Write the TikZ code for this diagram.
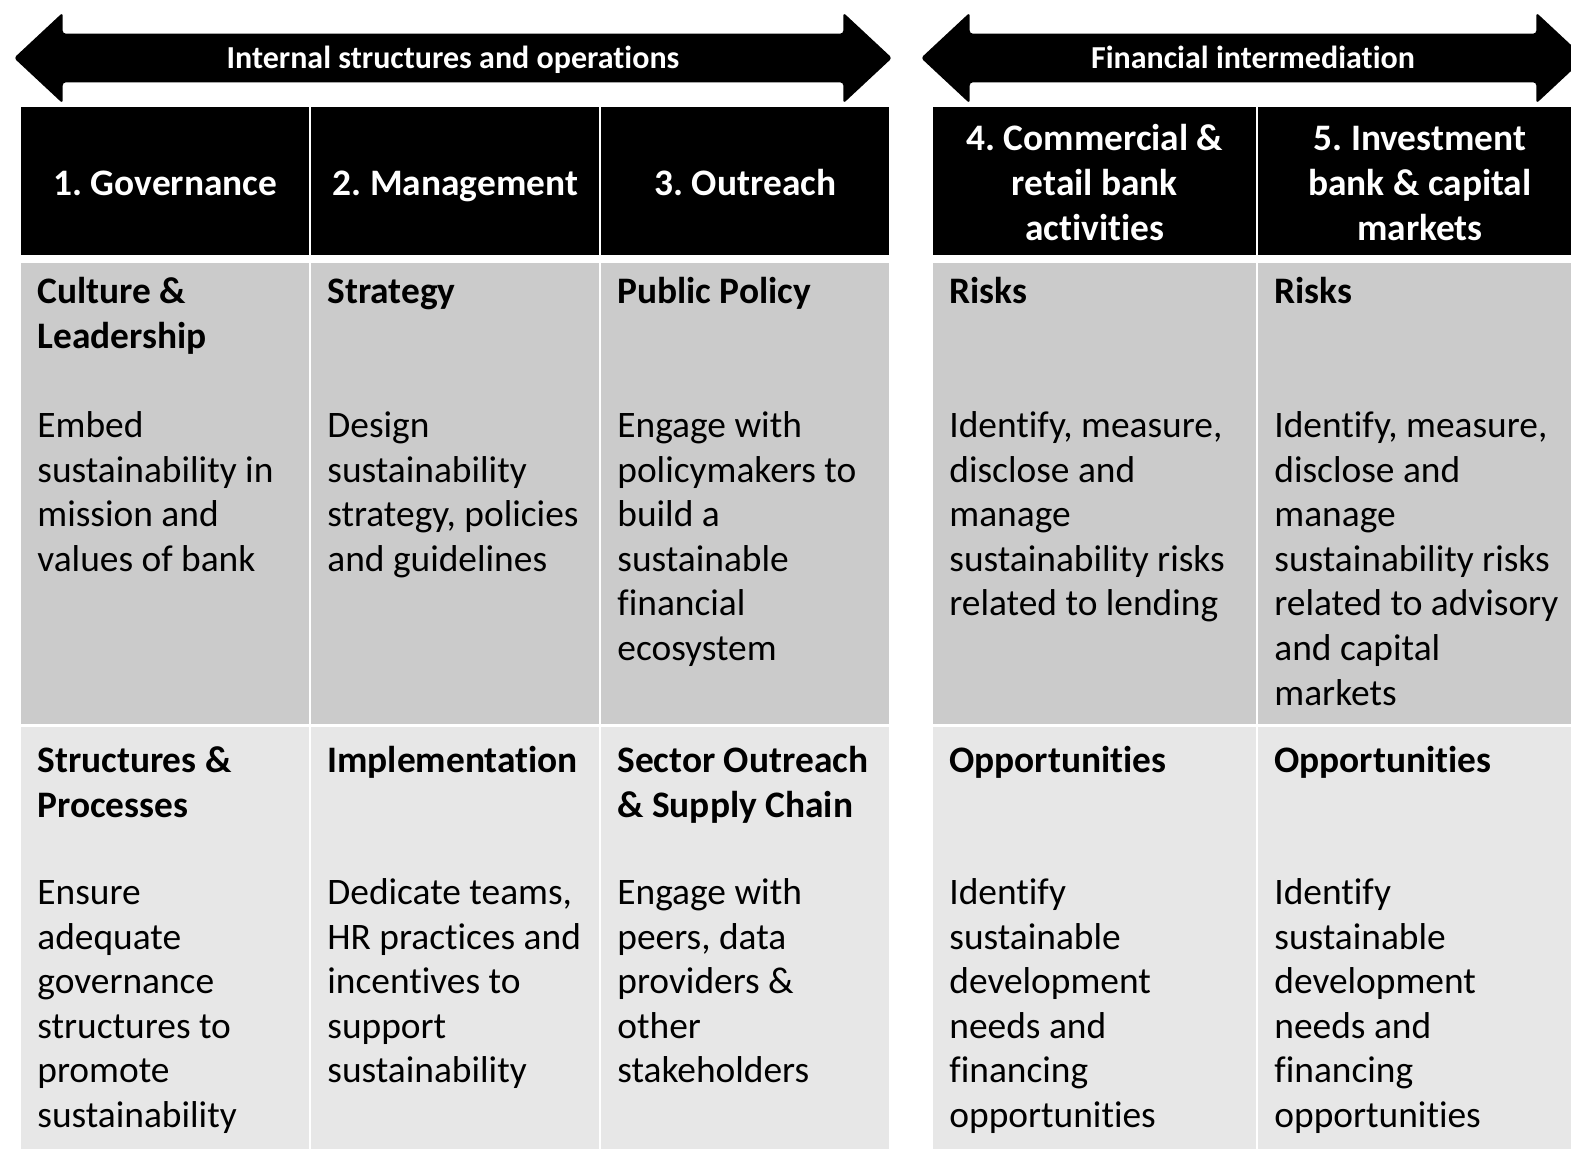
\documentclass[tikz,border=0pt]{standalone}
\usepackage{fontspec}
\setmainfont{Carlito}[Ligatures=CommonOff]
\frenchspacing
\usetikzlibrary{positioning,shapes.arrows}
\definecolor{riskgray}{RGB}{203,203,203}
\definecolor{oppgray}{RGB}{231,231,231}
\tikzset{
	band/.style={
		% The shape:
		double arrow,double arrow head extend=10.5pt,double arrow tip angle=86,
		minimum width=45pt,inner xsep=0pt,inner ysep=0pt,
		text height=17pt,text depth=7pt,rounded corners=1.5pt,
		% The filling:
		fill=black,text=white,
		font=\bfseries\fontsize{16pt}{18pt}\selectfont
	}}
\tikzset{
	header/.style={
		% The shape:
		rectangle,inner sep=0pt,anchor=north west,minimum height=74pt,
		minimum width=#1,text width=#1,
		% The filling:
		fill=black,text=white,align=flush center,
		font=\bfseries\fontsize{18.7pt}{22.3pt}\selectfont,
		execute at begin node=\rule{0pt}{18.15pt},
		execute at end node=\rule[-4.15pt]{0pt}{4.15pt}
	},
	cell/.style={
		rectangle,inner sep=0pt,anchor=north west
	},
	heading/.style={
		inner sep=0pt,text width=155pt,align=flush left,execute at begin node=\strut,
		font=\bfseries\fontsize{18.7pt}{22.3pt}\selectfont
	},
	body/.style={
		inner sep=0pt,text width=155pt,align=flush left,execute at begin node=\strut,
		font=\fontsize{18.7pt}{22.3pt}\selectfont
	}}
\begin{document}
\begin{tikzpicture}[x=0.5pt,y=-0.5pt]
	\useasboundingbox (0,0) rectangle (1571,1148);
	% the two bands on top
	\node[band,minimum height=439pt] (internal) at (453,58) {Internal structures and operations};
	\node[band,minimum height=332pt] (financial) at (1253,58) {Financial intermediation};
	% column headers
	\node[header=144pt] (gov) at (21,107) {1. Governance};
	\node[header=144pt] (man) at (311,107) {2. Management};
	\node[header=144pt] (out) at (601,107) {3. Outreach};
	\node[header=161.5pt] (com) at (933,107) {4. Commercial \&\\retail bank\\activities};
	\node[header=161.5pt] (inv) at (1258,107) {5. Investment\\bank \& capital\\markets};
	% the grey cells
	\foreach \c/\x/\w in {1/21/144,2/311/144,3/601/144,4/933/161.5,5/1258/161.5}{
		\node[cell,fill=riskgray,minimum width=\w pt,minimum height=230.5pt] (r\c) at (\x,263) {};
		\node[cell,fill=oppgray,minimum width=\w pt,minimum height=217pt] (o\c) at (\x,727) {};
	}
	% first row
	\node[heading,below right=4.4pt and 8pt of r1.north west] (rh1) {Culture \&\\Leadership};
	\node[body,below right=71.4pt and 8pt of r1.north west] (rb1) {Embed\\sustainability in\\mission and\\values of bank};
	\node[heading,below right=4.4pt and 8pt of r2.north west] (rh2) {Strategy};
	\node[body,below right=71.4pt and 8pt of r2.north west] (rb2) {Design\\sustainability\\strategy, policies\\and guidelines};
	\node[heading,below right=4.4pt and 8pt of r3.north west] (rh3) {Public Policy};
	\node[body,below right=71.4pt and 8pt of r3.north west] (rb3) {Engage with\\policymakers to\\build a\\sustainable\\financial\\ecosystem};
	\node[heading,below right=4.4pt and 8pt of r4.north west] (rh4) {Risks};
	\node[body,below right=71.4pt and 8pt of r4.north west] (rb4) {Identify, measure,\\disclose and\\manage\\sustainability risks\\related to lending};
	\node[heading,below right=4.4pt and 8pt of r5.north west] (rh5) {Risks};
	\node[body,below right=71.4pt and 8pt of r5.north west] (rb5) {Identify, measure,\\disclose and\\manage\\sustainability risks\\related to advisory\\and capital\\markets};
	% second row
	\node[heading,below right=6.9pt and 8pt of o1.north west] (oh1) {Structures \&\\Processes};
	\node[body,below right=72.9pt and 8pt of o1.north west] (ob1) {Ensure\\adequate\\governance\\structures to\\promote\\sustainability};
	\node[heading,below right=6.9pt and 8pt of o2.north west] (oh2) {Implementation};
	\node[body,below right=72.9pt and 8pt of o2.north west] (ob2) {Dedicate teams,\\HR practices and\\incentives to\\support\\sustainability};
	\node[heading,below right=6.9pt and 8pt of o3.north west] (oh3) {Sector Outreach\\\& Supply Chain};
	\node[body,below right=72.9pt and 8pt of o3.north west] (ob3) {Engage with\\peers, data\\providers \&\\other\\stakeholders};
	\node[heading,below right=6.9pt and 8pt of o4.north west] (oh4) {Opportunities};
	\node[body,below right=72.9pt and 8pt of o4.north west] (ob4) {Identify\\sustainable\\development\\needs and\\financing\\opportunities};
	\node[heading,below right=6.9pt and 8pt of o5.north west] (oh5) {Opportunities};
	\node[body,below right=72.9pt and 8pt of o5.north west] (ob5) {Identify\\sustainable\\development\\needs and\\financing\\opportunities};
\end{tikzpicture}
\end{document}
